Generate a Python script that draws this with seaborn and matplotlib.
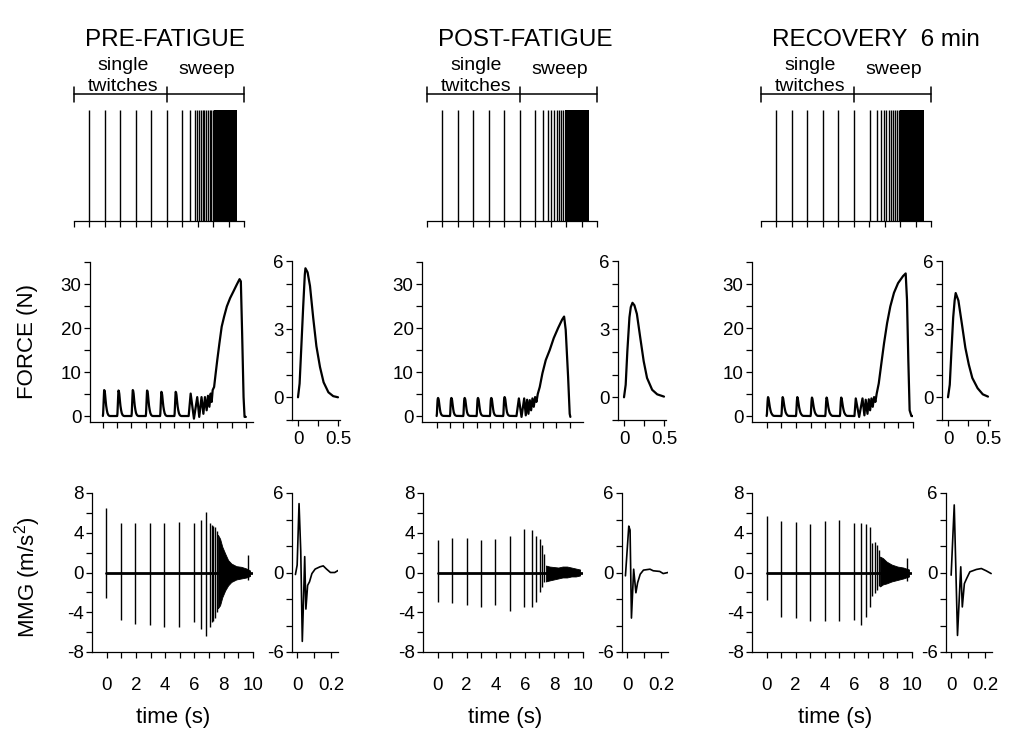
import numpy as np
import pandas as pd
import matplotlib
matplotlib.use("Agg")
import matplotlib.pyplot as plt
from matplotlib.ticker import FixedLocator, NullFormatter
import seaborn as sns

sns.set_theme(style="ticks")
plt.rcParams["font.family"] = ["Liberation Sans", "DejaVu Sans"]
plt.rcParams["mathtext.fontset"] = "custom"
plt.rcParams["mathtext.rm"] = "Liberation Sans"
plt.rcParams["axes.unicode_minus"] = False
for key in ("text.color", "axes.labelcolor", "xtick.color", "ytick.color", "axes.edgecolor"):
    plt.rcParams[key] = "black"

# ---------------- data ----------------
conditions = ["PRE-FATIGUE", "POST-FATIGUE", "RECOVERY  6 min"]

# stimulation pulses (s)
stim_single = [0, 1, 2, 3, 4, 5]
stim_sweep = [
    [6.0, 6.52, 6.80, 6.97, 7.10, 7.23, 7.33, 7.44, 7.55, 7.66, 7.77, 7.88, 7.98],
    [6.0, 6.5, 6.83, 7.05, 7.22, 7.38, 7.53, 7.7, 7.82],
    [6.06, 6.53, 6.79, 6.97, 7.12, 7.25, 7.38, 7.51, 7.64, 7.77, 7.90],
]
stim_dense = [(8.03, 9.56), (7.93, 9.5), (8.0, 9.56)]

# single-twitch force (inset), N
ftw_t = [
    [0, 0.02, 0.04, 0.065, 0.085, 0.093, 0.12, 0.15, 0.19, 0.23, 0.275, 0.32, 0.38, 0.44, 0.5],
    [0, 0.021, 0.042, 0.068, 0.085, 0.106, 0.13, 0.161, 0.203, 0.246, 0.288, 0.352, 0.415, 0.5],
    [0, 0.022, 0.043, 0.065, 0.083, 0.096, 0.13, 0.174, 0.217, 0.26, 0.304, 0.37, 0.435, 0.5],
]
ftw_f = [
    [0, 0.6, 2.1, 4.0, 5.4, 5.68, 5.5, 4.9, 3.5, 2.25, 1.33, 0.66, 0.22, 0.05, 0.0],
    [0, 0.55, 2.04, 3.52, 3.97, 4.16, 4.05, 3.67, 2.63, 1.59, 0.85, 0.33, 0.13, 0.03],
    [0, 0.55, 2.04, 3.52, 4.26, 4.59, 4.26, 3.22, 2.18, 1.44, 0.85, 0.4, 0.13, 0.03],
]
# peak of each single twitch in the long record, N
twitch_times = [0, 1, 2, 3, 4, 5]
twitch_peaks = [
    [5.9, 5.8, 5.9, 5.8, 5.5, 5.5],
    [4.1, 4.1, 4.1, 4.1, 4.1, 4.3],
    [4.3, 4.3, 4.3, 4.2, 4.2, 4.2],
]
# sweep part of the force record (peaks / troughs, then fused ramp)
sweep_t = [
    [6.0, 6.14, 6.37, 6.6, 6.74, 6.9, 7.03, 7.14, 7.26, 7.35, 7.45, 7.54, 7.61, 7.68, 7.78,
     7.89, 8.0, 8.15, 8.31, 8.48, 8.67, 8.9, 9.13, 9.37, 9.56, 9.65, 9.74, 9.84, 9.91, 10.0],
    [6.0, 6.18, 6.38, 6.58, 6.7, 6.8, 6.9, 7.0, 7.1, 7.2, 7.3, 7.4, 7.5, 7.6, 7.75, 7.95,
     8.2, 8.5, 8.8, 9.13, 9.43, 9.58, 9.7, 9.88, 10.0, 10.05],
    [6.0, 6.09, 6.32, 6.55, 6.68, 6.77, 6.89, 6.98, 7.07, 7.16, 7.25, 7.34, 7.43, 7.52, 7.66,
     7.84, 8.02, 8.23, 8.45, 8.7, 8.98, 9.32, 9.5, 9.59, 9.68, 9.77, 9.89, 10.0],
]
sweep_f = [
    [0, 5.1, -0.6, 4.3, -0.2, 4.3, 0.5, 4.3, 1.3, 4.6, 2.1, 5.1, 3.2, 5.9, 6.6, 9.7, 12.7,
     16.5, 20.3, 22.6, 24.9, 26.8, 28.3, 29.9, 31.1, 30.6, 18.8, 4.3, -0.2, -0.2],
    [0, 4.0, -0.2, 4.0, 0.15, 3.7, 0.5, 3.6, 1.3, 4.0, 2.1, 4.3, 3.2, 5.0, 6.6, 9.7, 12.7,
     15.0, 17.7, 20.0, 21.9, 22.6, 19.6, 8.9, 0.5, -0.2],
    [0, 4.0, -0.2, 4.0, 0.15, 3.7, 0.5, 3.8, 1.3, 4.0, 2.1, 4.3, 3.2, 5.1, 7.4, 12.0, 16.5,
     21.1, 24.9, 28.0, 30.2, 31.8, 32.4, 26.4, 12.7, 1.3, 0.0, 0.0],
]

# MMG of a single twitch (inset), m/s^2
mtw_t = [
    [-0.01, 0.0, 0.011, 0.021, 0.030, 0.038, 0.044, 0.051, 0.061, 0.072, 0.086, 0.105, 0.133,
     0.152, 0.171, 0.194, 0.219, 0.238],
    [-0.01, 0.0095, 0.017, 0.025, 0.038, 0.051, 0.061, 0.076, 0.095, 0.133, 0.152, 0.19, 0.21, 0.238],
    [0.0, 0.018, 0.037, 0.056, 0.065, 0.077, 0.09, 0.109, 0.147, 0.176, 0.204, 0.233],
]
mtw_a = [
    [-0.15, 0.56, 5.2, 1.6, -5.2, -1.7, 1.2, -2.76, -0.97, -0.7, -0.08, 0.26, 0.43, 0.5, 0.26,
     0.0, 0.0, 0.15],
    [-0.25, 3.5, 3.2, -3.44, 0.25, -1.53, -0.77, -0.13, 0.18, 0.25, 0.13, 0.08, -0.08, 0.0],
    [-0.2, 5.1, -4.75, 0.43, -2.6, -0.84, -0.46, 0.05, 0.23, 0.3, 0.13, -0.08],
]
# MMG long record: spike times, positive and negative peaks
mspk_t = [
    [-0.05, 0.95, 1.95, 2.95, 3.95, 4.95, 5.95, 6.48, 6.77, 7.05, 7.18, 7.3, 7.42, 7.54],
    [0, 1.02, 2.0, 3.0, 3.98, 5.0, 5.95, 6.48, 6.77, 7.05, 7.2, 7.34],
    [0, 1.0, 2.02, 3.0, 4.02, 5.0, 6.0, 6.52, 6.82, 7.09, 7.27, 7.43, 7.59, 7.73],
]
mspk_top = [
    [6.5, 5.0, 5.0, 5.0, 5.0, 5.1, 5.0, 5.3, 6.1, 4.95, 4.8, 4.7, 4.6, 4.2],
    [3.3, 3.5, 3.5, 3.3, 3.4, 3.7, 4.4, 4.3, 3.7, 3.4, 2.8, 1.9],
    [5.7, 5.2, 5.1, 4.9, 5.2, 5.3, 5.0, 5.0, 4.9, 4.6, 3.0, 3.1, 2.8, 2.3],
]
mspk_bot = [
    [-2.6, -4.75, -5.15, -5.3, -5.5, -5.5, -5.0, -5.65, -6.4, -5.5, -5.0, -4.9, -4.6, -4.0],
    [-3.0, -3.1, -3.3, -3.5, -3.3, -3.9, -3.5, -3.5, -3.0, -2.0, -1.5, -0.95],
    [-2.8, -4.5, -4.6, -4.9, -4.9, -4.9, -4.75, -5.3, -4.5, -3.5, -2.4, -2.1, -1.8, -1.4],
]
# envelope of the dense (fused) MMG oscillation
menv_t = [
    [7.6, 7.75, 7.9, 8.1, 8.3, 8.52, 8.86, 9.2, 9.55, 9.8],
    [7.45, 7.7, 8.0, 8.3, 8.6, 8.9, 9.2, 9.5, 9.8],
    [7.8, 8.0, 8.25, 8.6, 9.0, 9.4, 9.8],
]
menv_top = [
    [3.8, 3.4, 2.6, 1.9, 1.25, 0.9, 0.64, 0.57, 0.4, 0.2],
    [0.7, 0.6, 0.55, 0.5, 0.6, 0.6, 0.5, 0.4, 0.3],
    [1.6, 1.45, 1.1, 0.8, 0.6, 0.5, 0.3],
]
menv_bot = [
    [-3.6, -3.3, -2.5, -1.8, -1.3, -0.95, -0.7, -0.6, -0.5, -0.35],
    [-0.9, -0.8, -0.7, -0.6, -0.5, -0.5, -0.4, -0.4, -0.3],
    [-1.4, -1.2, -1.1, -0.9, -0.75, -0.6, -0.4],
]
# relaxation artefact at the end of the sweep (time, top, bottom)
mart = [(9.66, 1.75, -0.8), None, (9.64, 1.45, -0.9)]

# ---------------- layout (pixels of the 1024 x 743 figure) ----------------
W, H = 1024, 743
fig = plt.figure(figsize=(W / 100, H / 100), dpi=100)
fig.patch.set_facecolor("white")

def add_ax(x0, x1, y0, y1):
    return fig.add_axes([x0 / W, 1 - y1 / H, (x1 - x0) / W, (y1 - y0) / H])

stim_x = [(74, 244), (427, 597), (761, 931)]
force_x = [(90, 253), (422, 583), (752, 913)]
force_xlim = [(-0.9, 10.5), (-1.1, 11.0), (-1.0, 10.0)]
finset_x = [292, 618, 942]
mmg_x = [(92, 253), (423, 583), (752, 912)]
minset_x = [292, 622, 946]
title_cx = [165, 525, 876]
time_cx = [173, 505, 835]

TK = 13.5
LW = 1.6

def style(ax, tick_len=4.0):
    sns.despine(ax=ax)
    for s in ("left", "bottom"):
        ax.spines[s].set_linewidth(0.9)
        ax.spines[s].set_color("black")
    ax.tick_params(which="both", direction="out", length=tick_len, width=0.9,
                   colors="black", labelsize=TK, pad=2)
    ax.set_facecolor("white")
    ax.grid(False)

def px_y(ypx):
    return 1 - ypx / H

for c in range(3):
    # ---- stimulus panel ----
    ax = add_ax(stim_x[c][0], stim_x[c][1], 110, 221)
    style(ax)
    ax.spines["left"].set_visible(False)
    pulses = stim_single + stim_sweep[c]
    ax.vlines(pulses, 0, 1, color="black", lw=1.0)
    d0, d1 = stim_dense[c]
    ax.fill_between([d0, d1], [0, 0], [1, 1], color="black", lw=0)
    ax.set_xlim(-1, 10)
    ax.set_ylim(0, 1)
    ax.set_yticks([])
    ax.set_xticks(range(-1, 11))
    ax.xaxis.set_major_formatter(NullFormatter())
    # bracket
    yb, yc0, yc1 = 1.144, 1.072, 1.207
    ax.plot([-1, 10], [yb, yb], color="black", lw=1.1, clip_on=False)
    for xx in (-1, 5, 10):
        ax.plot([xx, xx], [yc0, yc1], color="black", lw=1.1, clip_on=False)
    sx0 = stim_x[c][0]
    fig.text((sx0 + 49) / W, px_y(70), "single", ha="center", va="baseline", fontsize=14)
    fig.text((sx0 + 49) / W, px_y(91), "twitches", ha="center", va="baseline", fontsize=14)
    fig.text((sx0 + 133) / W, px_y(74), "sweep", ha="center", va="baseline", fontsize=14)
    fig.text(title_cx[c] / W, px_y(46), conditions[c], ha="center", va="baseline", fontsize=17.5)

    # ---- force long record ----
    ax = add_ax(force_x[c][0], force_x[c][1], 262, 422)
    style(ax)
    tt, ff = [], []
    pk = max(ftw_f[c])
    for k, t0 in enumerate(twitch_times):
        tt += [t0 + v for v in ftw_t[c]]
        ff += [twitch_peaks[c][k] / pk * v for v in ftw_f[c]]
    tt += sweep_t[c]
    ff += sweep_f[c]
    sns.lineplot(x=tt, y=ff, ax=ax, color="black", lw=LW, sort=False, estimator=None)
    ax.set_xlim(*force_xlim[c])
    ax.set_ylim(-1.36, 35)
    ax.yaxis.set_major_locator(FixedLocator([0, 10, 20, 30]))
    ax.yaxis.set_minor_locator(FixedLocator([5, 15, 25, 35]))
    ax.set_xticks(range(0, 11))
    ax.xaxis.set_major_formatter(NullFormatter())

    # ---- force twitch inset ----
    ax = add_ax(finset_x[c], finset_x[c] + 48, 261, 420)
    style(ax)
    sns.lineplot(x=ftw_t[c], y=ftw_f[c], ax=ax, color="black", lw=LW, sort=False, estimator=None)
    ax.set_xlim(-0.075, 0.525)
    ax.set_ylim(-1, 6)
    ax.yaxis.set_major_locator(FixedLocator([0, 3, 6]))
    ax.yaxis.set_minor_locator(FixedLocator([-1, 1, 2, 4, 5]))
    ax.xaxis.set_major_locator(FixedLocator([0, 0.5]))
    ax.xaxis.set_minor_locator(FixedLocator([0.25]))
    ax.set_xticklabels(["0", "0.5"])
    ax.tick_params(axis="x", pad=4)

    # ---- MMG long record ----
    ax = add_ax(mmg_x[c][0], mmg_x[c][1], 493, 652)
    style(ax)
    ax.plot([mspk_t[c][0], 9.95], [0, 0], color="black", lw=2.0)
    ax.vlines(mspk_t[c], mspk_bot[c], mspk_top[c], color="black", lw=1.0)
    ax.fill_between(menv_t[c], menv_bot[c], menv_top[c], color="black", lw=0.6)
    if mart[c] is not None:
        ta, a1, a2 = mart[c]
        ax.vlines([ta], [a2], [a1], color="black", lw=1.0)
    ax.set_xlim(-1, 10)
    ax.set_ylim(-8, 8)
    ax.yaxis.set_major_locator(FixedLocator([-8, -4, 0, 4, 8]))
    ax.yaxis.set_minor_locator(FixedLocator([-6, -2, 2, 6]))
    ax.xaxis.set_major_locator(FixedLocator([0, 2, 4, 6, 8, 10]))
    ax.xaxis.set_minor_locator(FixedLocator([1, 3, 5, 7, 9]))
    ax.tick_params(axis="x", pad=14)

    # ---- MMG twitch inset ----
    ax = add_ax(minset_x[c], minset_x[c] + 46, 493, 652)
    style(ax)
    sns.lineplot(x=mtw_t[c], y=mtw_a[c], ax=ax, color="black", lw=1.2, sort=False, estimator=None)
    ax.set_xlim(-0.03, 0.238)
    ax.set_ylim(-6, 6)
    ax.yaxis.set_major_locator(FixedLocator([-6, 0, 6]))
    ax.yaxis.set_minor_locator(FixedLocator([-4, -2, 2, 4]))
    ax.xaxis.set_major_locator(FixedLocator([0, 0.2]))
    ax.xaxis.set_minor_locator(FixedLocator([0.1]))
    ax.set_xticklabels(["0", "0.2"])
    ax.tick_params(axis="x", pad=14)

    fig.text(time_cx[c] / W, px_y(718), "time (s)", ha="center", va="center", fontsize=16)

fig.text(28 / W, px_y(342), "FORCE (N)", rotation=90, ha="center", va="center", fontsize=16)
fig.text(28 / W, px_y(577), r"MMG (m/s$^{\mathregular{2}}$)", rotation=90, ha="center",
         va="center", fontsize=16)

fig.savefig("out.png", dpi=100, facecolor="white")
